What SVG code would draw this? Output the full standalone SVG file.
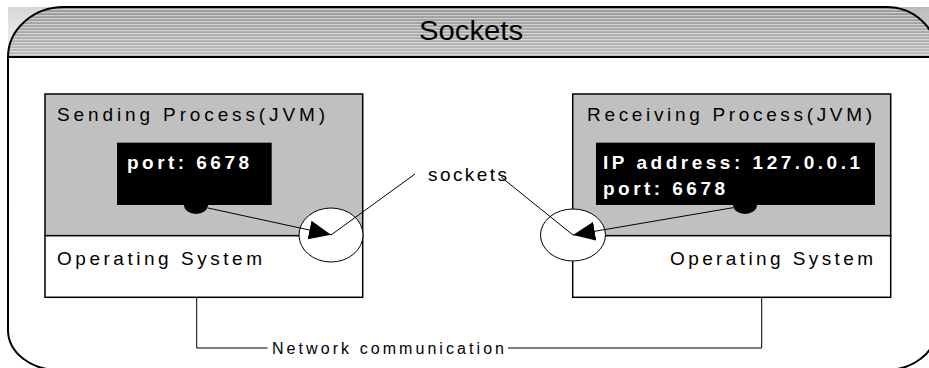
<svg xmlns="http://www.w3.org/2000/svg" width="929" height="368" viewBox="0 0 929 368">
  <style>
    .lbl { font-family: "Liberation Sans", Arial, sans-serif; font-size: 19px; fill: #000; }
    .port { font-family: "Liberation Sans", Arial, sans-serif; font-size: 19px; font-weight: bold; fill: #fff; }
    .box { stroke: #000; stroke-width: 1.5; }
    .ln { fill: none; stroke: #000; stroke-width: 1; }
  </style>
  <defs>
    <linearGradient id="hdrBase" x1="0" y1="0" x2="0" y2="1">
      <stop offset="0" stop-color="#959595"/>
      <stop offset="1" stop-color="#bababa"/>
    </linearGradient>
    <linearGradient id="cornerBg" x1="1" y1="0" x2="0" y2="1">
      <stop offset="0" stop-color="#bcbcbc"/>
      <stop offset="1" stop-color="#f4f4f4"/>
    </linearGradient>
    <pattern id="stripes" patternUnits="userSpaceOnUse" width="20" height="3">
      <rect x="0" y="0" width="20" height="1.2" fill="#ffffff" fill-opacity="0.5"/>
    </pattern>
    <marker id="arrow" viewBox="0 0 22 19" refX="22" refY="9.5" markerWidth="22" markerHeight="19" markerUnits="userSpaceOnUse" orient="auto">
      <path d="M0,0 L22,9.5 L0,19 Z" fill="#000"/>
    </marker>
  </defs>

  <g id="frame">
    <rect x="8" y="7" width="921" height="50" fill="url(#cornerBg)"/>
    <path d="M8,57 A56,50 0 0 1 64,7 L886,7 A50,45 0 0 1 936,52 L936,57 Z" fill="url(#hdrBase)"/>
    <path d="M8,57 A56,50 0 0 1 64,7 L886,7 A50,45 0 0 1 936,52 L936,57 Z" fill="url(#stripes)"/>
    <path d="M8,57 A56,50 0 0 1 64,7 L886,7 A50,45 0 0 1 936,52 L936,330 A50,40 0 0 1 886,370 L58,370 A50,40 0 0 1 8,330 Z" fill="none" stroke="#000" stroke-width="2"/>
    <line x1="8" y1="57" x2="936" y2="57" stroke="#000" stroke-width="2"/>
    <text x="419" y="40" font-family="'Liberation Sans', Arial, sans-serif" font-size="27" textLength="104" lengthAdjust="spacingAndGlyphs">Sockets</text>
  </g>

  <g id="sending-process">
    <rect class="box" x="45" y="94" width="317.7" height="141.7" fill="#c0c0c0"/>
    <text class="lbl" x="57" y="121" textLength="268" lengthAdjust="spacing">Sending Process(JVM)</text>
    <rect x="117" y="142.7" width="154.7" height="62.3" fill="#000"/>
    <text class="port" x="127" y="169" textLength="122" lengthAdjust="spacing">port: 6678</text>
    <ellipse cx="196" cy="205" rx="12" ry="9" fill="#000"/>
  </g>

  <g id="sending-os">
    <rect class="box" x="45" y="235.7" width="317.7" height="61.6" fill="#fff"/>
    <text class="lbl" x="57" y="265" textLength="205" lengthAdjust="spacing">Operating System</text>
  </g>

  <g id="receiving-process">
    <rect class="box" x="572.7" y="94" width="318" height="141.7" fill="#c0c0c0"/>
    <text class="lbl" x="587" y="121" textLength="285" lengthAdjust="spacing">Receiving Process(JVM)</text>
    <rect x="596" y="142.7" width="279" height="62.3" fill="#000"/>
    <text class="port" x="603" y="169" textLength="257" lengthAdjust="spacing">IP address: 127.0.0.1</text>
    <text class="port" x="603" y="195" textLength="122" lengthAdjust="spacing">port: 6678</text>
    <ellipse cx="745" cy="205" rx="12" ry="9" fill="#000"/>
  </g>

  <g id="receiving-os">
    <rect class="box" x="572.7" y="235.7" width="318" height="61.6" fill="#fff"/>
    <text class="lbl" x="670" y="265" textLength="203" lengthAdjust="spacing">Operating System</text>
  </g>

  <g id="socket-left">
    <ellipse cx="331" cy="235" rx="32" ry="27" fill="#fff" stroke="#000" stroke-width="1"/>
  </g>
  <g id="socket-right">
    <ellipse cx="573" cy="235" rx="32.5" ry="26" fill="#fff" stroke="#000" stroke-width="1"/>
  </g>

  <g id="sockets-label">
    <text class="lbl" x="428" y="181" textLength="79" lengthAdjust="spacing">sockets</text>
  </g>

  <g id="connectors">
    <line class="ln" x1="208" y1="208" x2="331" y2="234.7" marker-end="url(#arrow)"/>
    <line class="ln" x1="733" y1="207.7" x2="573" y2="235" marker-end="url(#arrow)"/>
    <line class="ln" x1="415" y1="174" x2="331" y2="235"/>
    <line class="ln" x1="501" y1="177" x2="573" y2="235"/>
    <polyline class="ln" points="196.7,297 196.7,348 267.5,348"/>
    <polyline class="ln" points="508,348 761.7,348 761.7,297"/>
    <text x="272" y="354" font-family="'Liberation Sans', Arial, sans-serif" font-size="16" textLength="232" lengthAdjust="spacing">Network communication</text>
  </g>
</svg>
